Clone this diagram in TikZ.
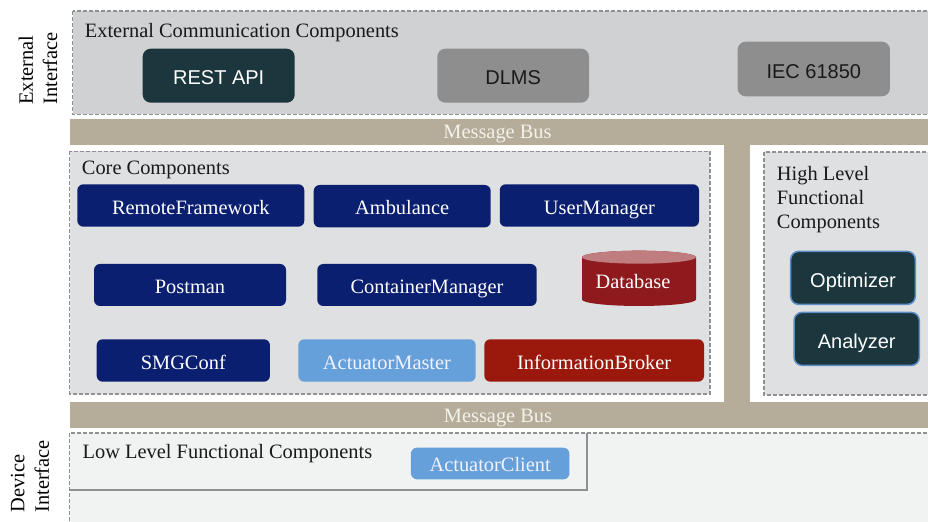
\documentclass[tikz,border=0pt]{standalone}
\usepackage{fontspec}
\setmainfont{Liberation Serif}
\setsansfont{Liberation Sans}
\definecolor{extgray}{HTML}{D0D1D3}
\definecolor{coregray}{HTML}{DFE0E2}
\definecolor{lowgray}{HTML}{F1F2F2}
\definecolor{dashgray}{HTML}{8F9094}
\definecolor{bustan}{HTML}{B5AC99}
\definecolor{bustext}{HTML}{F4F2EC}
\definecolor{navy}{HTML}{0A1F70}
\definecolor{teal}{HTML}{1B363C}
\definecolor{boxgray}{HTML}{8E8E8E}
\definecolor{lightblue}{HTML}{65A0DB}
\definecolor{ibred}{HTML}{9A190C}
\definecolor{dbred}{HTML}{8E1A1E}
\definecolor{dbtop}{HTML}{C07D80}
\definecolor{optborder}{HTML}{5A8FC8}
\begin{document}
\begin{tikzpicture}[x=0.5pt,y=-0.5pt,
  every node/.style={font=\fontsize{10.2}{12}\selectfont, inner sep=0pt},
  container/.style={draw=dashgray, dashed, dash pattern=on 2pt off 1pt, line width=0.6pt},
  busbar/.style={fill=bustan, draw=none},
  bustxt/.style={text=bustext, anchor=base},
  comp/.style={rounded corners=3pt, draw=none, text=white, align=center, text height=8.8pt, text depth=0pt},
  sanscomp/.style={comp, rounded corners=4pt, text height=9.2pt, font=\sffamily\fontsize{10}{12}\selectfont},
  navybox/.style={comp, fill=navy, minimum height=21.2pt},
  label/.style={text=black!90, anchor=base west},
  sidelabel/.style={rotate=90, anchor=west, align=left, font=\fontsize{10.2}{12.2}\selectfont}
]
\useasboundingbox (0,0) rectangle (928,522);

% external interface area
\path[container, fill=extgray] (72.5,11) rectangle (930,114.5);
\node[label] (extlbl) at (84.5,37.5) {External Communication Components};
\node[sanscomp, fill=teal, minimum width=76pt, minimum height=27pt] (rest) at (218.7,75.7) {REST API};
\node[sanscomp, fill=boxgray, text=black!90, minimum width=75.85pt, minimum height=27pt] (dlms) at (513.2,75.7) {DLMS};
\node[sanscomp, fill=boxgray, text=black!90, minimum width=76.15pt, minimum height=27.3pt] (iec) at (813.8,69) {IEC 61850};

% buses
\path[busbar] (70,119) rectangle (928,145);
\path[busbar] (724,145) rectangle (750,403);
\path[busbar] (70,402.5) rectangle (928,428);
\node[bustxt] (bus1) at (497.5,138.5) {Message Bus};
\node[bustxt] (bus2) at (498,423) {Message Bus};

% core components
\path[container, fill=coregray] (69.5,151.5) rectangle (710,394);
\node[label] (corelbl) at (81.5,175) {Core Components};
\node[navybox, minimum width=113.5pt] (rf) at (190.8,205.5) {RemoteFramework};
\node[navybox, minimum width=88.5pt] (amb) at (402.2,206.2) {Ambulance};
\node[navybox, minimum width=99.65pt] (um) at (599.4,205.5) {UserManager};
\node[navybox, minimum width=96pt, minimum height=21pt] (pm) at (190,285) {Postman};
\node[navybox, minimum width=109.7pt, minimum height=21pt] (cm) at (427,285) {ContainerManager};
\node[navybox, minimum width=86.65pt] (smg) at (183.3,360.5) {SMGConf};
\node[comp, fill=lightblue, minimum width=88.7pt, minimum height=21.2pt, text=white!95!blue] (am) at (387,360.5) {ActuatorMaster};
\node[comp, fill=ibred, minimum width=109.85pt, minimum height=21.2pt] (ib) at (594.2,360.5) {InformationBroker};

% database cylinder
\fill[dbred] (582,257.2) -- (582,299.5) arc[start angle=180, end angle=360, x radius=28.5pt, y radius=3.25pt] -- (696,257.2) arc[start angle=0, end angle=180, x radius=28.5pt, y radius=3.25pt] -- cycle;
\fill[dbtop] (639,257.2) ellipse[x radius=28.5pt, y radius=3.25pt];
\node[text=white, anchor=base] (db) at (633,288.5) {Database};

% high level functional components
\path[container, fill=coregray] (764,152) rectangle (935,395);
\node[anchor=north west, align=left, text=black!90] (hllbl) at (776.5,166) {High Level\\Functional\\Components};
\node[sanscomp, fill=teal, draw=optborder, line width=0.75pt, minimum width=62.3pt, minimum height=26.5pt] (opt) at (853,277.9) {Optimizer};
\node[sanscomp, fill=teal, draw=optborder, line width=0.75pt, minimum width=62.6pt, minimum height=26.5pt] (ana) at (856.7,338.9) {Analyzer};

% low level / device interface
\path[container, fill=lowgray] (69.5,433) rectangle (935,530);
\draw[dashgray, line width=0.6pt] (69.5,490) -- (587,490) -- (587,433);
\node[label] (lllbl) at (82.3,458.3) {Low Level Functional Components};
\node[comp, fill=lightblue, minimum width=79.25pt, minimum height=15.8pt, text height=8.2pt, text=white!95!blue] (ac) at (490.2,463.5) {ActuatorClient};

% side labels
\node[sidelabel] (extif) at (38,105) {External\\Interface};
\node[sidelabel] (devif) at (30,513) {Device\\Interface};
\end{tikzpicture}
\end{document}
